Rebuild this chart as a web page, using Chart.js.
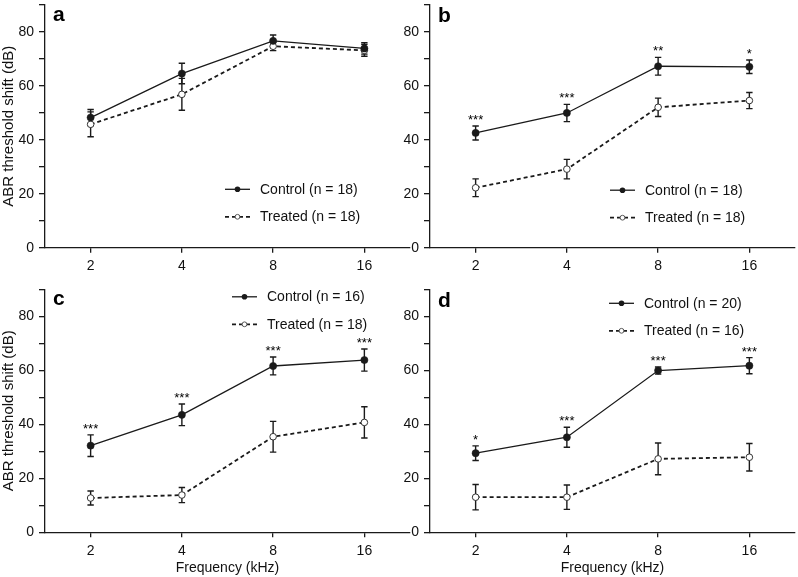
<!DOCTYPE html>
<html>
<head>
<meta charset="utf-8">
<script src="https://cdn.jsdelivr.net/npm/chart.js@4/dist/chart.umd.min.js"></script>
<style>
html,body{margin:0;padding:0;background:#fff;}
#wrap{position:relative;width:798px;height:577px;overflow:hidden;background:#fff;}
#wrap canvas{position:absolute;}
</style>
</head>
<body>
<div id="wrap">
<canvas id="pa" width="420" height="285" style="left:0;top:0"></canvas>
<canvas id="pb" width="398" height="285" style="left:400px;top:0"></canvas>
<canvas id="pc" width="420" height="297" style="left:0;top:280px"></canvas>
<canvas id="pd" width="398" height="297" style="left:400px;top:280px"></canvas>
</div>
<script>
// ---- data ----
const frequencies = ['2', '4', '8', '16'];
const yTickLabels = ['0', '20', '40', '60', '80'];
const panelLetters = ['a', 'b', 'c', 'd'];
const yAxisTitle = 'ABR threshold shift (dB)';
const xAxisTitle = 'Frequency (kHz)';

const controlA = [48.2, 64.5, 76.6, 73.8];
const controlErrA = [3.0, 3.8, 2.2, 2.1];
const treatedA = [45.7, 56.8, 74.6, 73.1];
const treatedErrA = [4.6, 5.9, 1.6, 2.2];
const starsA = ['', '', '', ''];
const legendA = ['Control (n = 18)', 'Treated (n = 18)'];

const controlB = [42.5, 49.9, 67.2, 67.0];
const controlErrB = [2.6, 3.2, 3.3, 2.5];
const treatedB = [22.2, 29.1, 52.0, 54.5];
const treatedErrB = [3.3, 3.6, 3.4, 3.0];
const starsB = ['***', '***', '**', '*'];
const legendB = ['Control (n = 18)', 'Treated (n = 18)'];

const controlC = [32.1, 43.5, 61.6, 63.8];
const controlErrC = [4.0, 4.0, 3.3, 4.1];
const treatedC = [12.7, 13.8, 35.4, 40.7];
const treatedErrC = [2.6, 2.8, 5.7, 5.8];
const starsC = ['***', '***', '***', '***'];
const legendC = ['Control (n = 16)', 'Treated (n = 18)'];

const controlD = [29.3, 35.2, 59.9, 61.7];
const controlErrD = [2.7, 3.7, 1.3, 3.0];
const treatedD = [13.0, 13.0, 27.2, 27.8];
const treatedErrD = [4.7, 4.5, 5.9, 5.1];
const starsD = ['*', '***', '***', '***'];
const legendD = ['Control (n = 20)', 'Treated (n = 16)'];

// ---- drawing ----
const FONT = "'Liberation Sans', Arimo, Arial, Helvetica, sans-serif";
const INK = '#1a1a1a';

const errorBarPlugin = {
  id: 'errorBars',
  beforeDatasetsDraw(chart) {
    const ctx = chart.ctx, ys = chart.scales.y;
    chart.data.datasets.forEach((ds, di) => {
      const meta = chart.getDatasetMeta(di);
      ctx.save();
      ctx.strokeStyle = INK;
      ctx.lineWidth = 1.4;
      ctx.setLineDash([]);
      ds.data.forEach((v, i) => {
        const e = ds.errorBars[i];
        const px = meta.data[i].x;
        const t = ys.getPixelForValue(v + e), b = ys.getPixelForValue(v - e);
        ctx.beginPath();
        ctx.moveTo(px, t); ctx.lineTo(px, b);
        ctx.moveTo(px - 3.2, t); ctx.lineTo(px + 3.2, t);
        ctx.moveTo(px - 3.2, b); ctx.lineTo(px + 3.2, b);
        ctx.stroke();
      });
      ctx.restore();
    });
  }
};

const annotationPlugin = {
  id: 'annot',
  afterDraw(chart) {
    const o = chart.options.plugins.annot;
    const ctx = chart.ctx, ca = chart.chartArea, ys = chart.scales.y;
    ctx.save();
    // panel letter
    ctx.fillStyle = '#000';
    ctx.font = 'bold 21px ' + FONT;
    ctx.textAlign = 'left';
    ctx.textBaseline = 'alphabetic';
    ctx.fillText(o.letter, ca.left + 8, ca.top + o.letterDy);
    // stars
    const cds = chart.data.datasets[0];
    const meta = chart.getDatasetMeta(0);
    ctx.font = '13px ' + FONT;
    ctx.textAlign = 'center';
    o.stars.forEach((s, i) => {
      if (!s) return;
      const top = ys.getPixelForValue(cds.data[i] + cds.errorBars[i]);
      ctx.fillText(s, meta.data[i].x, top - 2);
    });
    // legend
    ctx.font = '14px ' + FONT;
    ctx.textAlign = 'left';
    ctx.textBaseline = 'middle';
    o.legend.forEach((lab, k) => {
      const x0 = ca.left + o.legX, y0 = ca.top + o.legY + k * 27.5;
      ctx.strokeStyle = INK;
      ctx.lineWidth = k === 0 ? 1.3 : 1.8;
      ctx.setLineDash(k === 0 ? [] : [4, 3]);
      ctx.beginPath(); ctx.moveTo(x0, y0); ctx.lineTo(x0 + 25, y0); ctx.stroke();
      ctx.setLineDash([]);
      ctx.beginPath(); ctx.arc(x0 + 12.5, y0, k === 0 ? 2.8 : 2.4, 0, Math.PI * 2);
      if (k === 0) { ctx.fillStyle = INK; ctx.fill(); }
      else { ctx.fillStyle = '#fff'; ctx.fill(); ctx.lineWidth = 1; ctx.strokeStyle = '#555'; ctx.stroke(); }
      ctx.fillStyle = '#111';
      ctx.fillText(lab, x0 + 35, y0 + 0.5);
    });
    ctx.restore();
  }
};

function zeroPad(s) { s.paddingTop = 0; s.paddingBottom = 0; s.paddingLeft = 0; s.paddingRight = 0; }

function makePanel(id, letter, control, controlErr, treated, treatedErr, stars, legend, L) {
  return new Chart(document.getElementById(id), {
    type: 'line',
    data: {
      labels: frequencies,
      datasets: [
        {
          label: legend[0], data: control, errorBars: controlErr,
          borderColor: INK, borderWidth: 1.3, tension: 0,
          pointRadius: 3.6, pointBackgroundColor: INK, pointBorderColor: INK, pointBorderWidth: 0.5
        },
        {
          label: legend[1], data: treated, errorBars: treatedErr,
          borderColor: INK, borderWidth: 1.8, borderDash: [4, 3], tension: 0,
          pointRadius: 3.3, pointBackgroundColor: '#fff', pointBorderColor: '#333', pointBorderWidth: 1
        }
      ]
    },
    options: {
      responsive: false,
      animation: false,
      events: [],
      layout: { autoPadding: false, padding: { top: L.top, right: L.right, left: 0, bottom: 0 } },
      plugins: {
        legend: { display: false },
        tooltip: { enabled: false },
        annot: { letter: letter, stars: stars, legend: legend, legX: L.legX, legY: L.legY, letterDy: L.letterDy }
      },
      scales: {
        x: {
          type: 'category',
          offset: true,
          grid: { display: true, drawOnChartArea: false, drawTicks: true, tickLength: 5, color: INK, lineWidth: 1.3, offset: false },
          border: { display: true, color: INK, width: 1.3 },
          ticks: { color: '#111', font: { family: FONT, size: 14 }, padding: 5, maxRotation: 0 },
          title: { display: L.xTitle, text: xAxisTitle, color: '#111', font: { family: FONT, size: 14 }, padding: { top: 0, bottom: 0 } },
          afterFit(s) { s.height = L.xHeight; zeroPad(s); }
        },
        y: {
          min: 0, max: 90,
          grid: { display: true, drawOnChartArea: false, drawTicks: true, tickLength: 6, color: INK, lineWidth: 1.3 },
          border: { display: true, color: INK, width: 1.3 },
          ticks: {
            stepSize: 10, color: '#111', font: { family: FONT, size: 14 }, padding: 5,
            callback: (v) => yTickLabels.includes(String(v)) ? String(v) : ''
          },
          title: { display: L.yTitle, text: yAxisTitle, color: '#111', font: { family: FONT, size: 15 }, padding: { top: 0, bottom: 0 } },
          afterFit(s) { s.width = L.yWidth; zeroPad(s); }
        }
      }
    },
    plugins: [errorBarPlugin, annotationPlugin]
  });
}

makePanel('pa', panelLetters[0], controlA, controlErrA, treatedA, treatedErrA, starsA, legendA,
  { top: 4.7, right: 10, yWidth: 45, xHeight: 37.3, yTitle: true, xTitle: false, legX: 180, legY: 184.6, letterDy: 16.5 });
makePanel('pb', panelLetters[1], controlB, controlErrB, treatedB, treatedErrB, starsB, legendB,
  { top: 4.7, right: 3, yWidth: 30, xHeight: 37.3, yTitle: false, xTitle: false, legX: 180, legY: 185.5, letterDy: 17.5 });
makePanel('pc', panelLetters[2], controlC, controlErrC, treatedC, treatedErrC, starsC, legendC,
  { top: 9.3, right: 10, yWidth: 45, xHeight: 44.7, yTitle: true, xTitle: true, legX: 187, legY: 7.5, letterDy: 16 });
makePanel('pd', panelLetters[3], controlD, controlErrD, treatedD, treatedErrD, starsD, legendD,
  { top: 9.3, right: 3, yWidth: 30, xHeight: 44.7, yTitle: false, xTitle: true, legX: 179, legY: 14, letterDy: 18 });
</script>
</body>
</html>
